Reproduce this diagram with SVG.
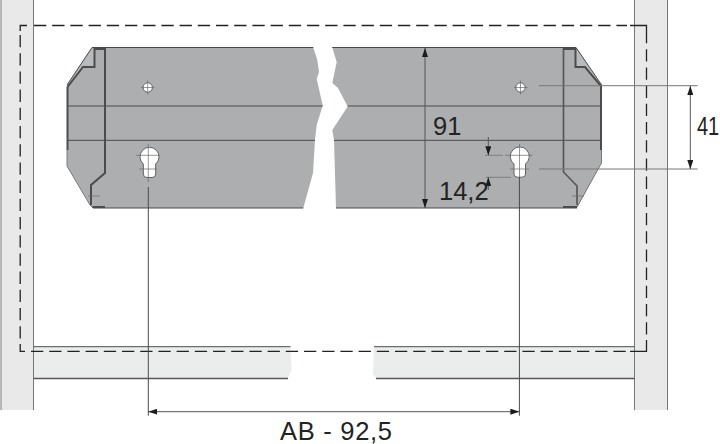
<svg xmlns="http://www.w3.org/2000/svg" width="720" height="444" viewBox="0 0 720 444">
<defs>
<marker id="arr" viewBox="0 0 9 6" refX="9" refY="3" markerWidth="9" markerHeight="6" markerUnits="userSpaceOnUse" orient="auto-start-reverse"><path d="M0 0L9 3L0 6Z" fill="#1c1c1c"/></marker>
</defs>
<style>
.thin{fill:none;stroke:#4a4a4a;stroke-width:1}
.edge{fill:none;stroke:#7a7a7c;stroke-width:1}
.dim{fill:none;stroke:#555;stroke-width:1}
.ext{fill:none;stroke:#777;stroke-width:1}
.hair{fill:none;stroke:#6a6a6a;stroke-width:.7}
.thick{fill:none;stroke:#4c4c4e;stroke-width:2}
.mid{fill:none;stroke:#58585a;stroke-width:1.7}
.plate{fill:#adaeb0}
.hole{fill:#fff;stroke:#555;stroke-width:.9}
.dash{fill:none;stroke:#222;stroke-width:1.300;stroke-dasharray:12.300 5.900}
.corner{fill:none;stroke:#222;stroke-width:1.300}
text{font-family:"Liberation Sans",Arial,sans-serif;font-size:25.5px;fill:#232323}
</style>
<rect width="720" height="444" fill="#fff"/>
<g id="walls">
<rect x="1" y="0" width="32.500" height="410" fill="#e9e9e9"/>
<rect x="634.500" y="0" width="33" height="410" fill="#e9e9e9"/>
<path class="ext" d="M1 0V410M33.500 0V410M634.500 0V410M667.500 0V410"/>
</g>
<g id="shelf">
<path d="M34 347H290.500L291.500 370L288 378H34Z" fill="#ebecec"/>
<path d="M634 347H374L373 374L376 378H634Z" fill="#ebecec"/>
<path class="thin" d="M33.500 346.700H290.500M374 346.700H634.500"/>
<path class="mid" d="M33.500 378.500H288M376 378.500H634.500"/>
</g>
<g id="plate">
<path class="plate" d="M92 47.500H313.300L317.300 60L319 72L316.700 79L322.700 105.500L316.700 125L315 140L313 173L303.300 208H93L90 205L67 166V85Z"/>
<path class="plate" d="M332.300 47.500H576L601.700 85V163L577 208H336L334 140L332.300 130L347.700 106.500L338 88L332.300 83L336.700 62Z"/>
<path d="M92 47.500L67 85L83 67H94.500V49Z" fill="#b9babb"/>
<path d="M576 47.500L601 85L585 67H576Z" fill="#b9babb"/>
<path class="thin" d="M92 47.500H313.300M332.300 47.500H576M93 208H303.300M336 208H577M67 85L92 47.500M576 47.500L601.700 85"/>
<path class="edge" d="M67 150V166L90 205L93 208M601.500 150V163L577 207"/>
<path class="thin" d="M67 106H322.700M347.700 106H601M67 140.300H315M334 140.300H601"/>
<path class="thick" d="M105 48V173L91 185V205"/>
<path class="thick" d="M67.500 150V87L83 67H94.500V49H105"/>
<path class="thick" d="M92.500 207H105"/>
<path class="mid" d="M563.500 48V172L577 186V205"/>
<path class="thick" d="M563 49H575.500V67H585L601 86V150"/>
<path class="thick" d="M563 207H577"/>
<path class="hair" d="M88 196H100M572 196H584"/>
</g>
<g id="holes">
<circle class="hole" cx="147.700" cy="87.500" r="4.700"/>
<circle class="hole" cx="520.500" cy="87.500" r="4.700"/>
<path class="hair" d="M141 87.500H154.500M147.700 80.500V94.500M514 87.500H527.500M520.500 80.500V94.500"/>
<path class="hole" d="M143.300 164A9.500 9.500 0 1 1 155.700 164V174Q155.700 177.500 152 177.500H147Q143.300 177.500 143.300 174Z"/>
<path class="hole" d="M514 164A9.500 9.500 0 1 1 525.500 164V174Q525.500 177.200 522 177.200H517.500Q514 177.200 514 174Z"/>
<path class="hair" d="M136 155.300H159.500M139 169H157M148.300 144V182M505 155.300H532.500M510 169H529M519.500 144V177"/>
</g>
<g id="connectors">
<path class="corner" d="M20.200 31V25.500H27M25 351.300H20.200V344M630 351.300H646.500V340M646.500 31V25.500H630"/>
<path class="dash" d="M34 25.500H627"/>
<path class="dash" d="M31 351.300H628"/>
<path class="dash" d="M20.200 35V340"/>
<path class="dash" d="M646.500 31V335"/>
<path class="thin" d="M148.300 187V415.700M519.400 177V415.700"/>
<path class="ext" d="M539 85.700H697.700M539 169H697.700"/>
<path class="dim" d="M690.300 86V169" marker-start="url(#arr)" marker-end="url(#arr)"/>
<path class="dim" d="M425 48V208" marker-start="url(#arr)" marker-end="url(#arr)"/>
<path class="dim" d="M148.300 411.700H519.400" marker-start="url(#arr)" marker-end="url(#arr)"/>
<path class="hair" d="M485 155.300H503M486 177.300H511"/>
<path class="dim" d="M488.300 137V155.300" marker-end="url(#arr)"/>
<path class="dim" d="M488.300 190V177.300" marker-end="url(#arr)"/>
</g>
<g id="labels">
<text x="433" y="135">91</text>
<text x="439" y="199.500">14,2</text>
<text transform="translate(697 135) scale(1 1.270)" style="font-size:20px">41</text>
<text x="280" y="440" textLength="112" lengthAdjust="spacing">AB - 92,5</text>
</g>
</svg>
